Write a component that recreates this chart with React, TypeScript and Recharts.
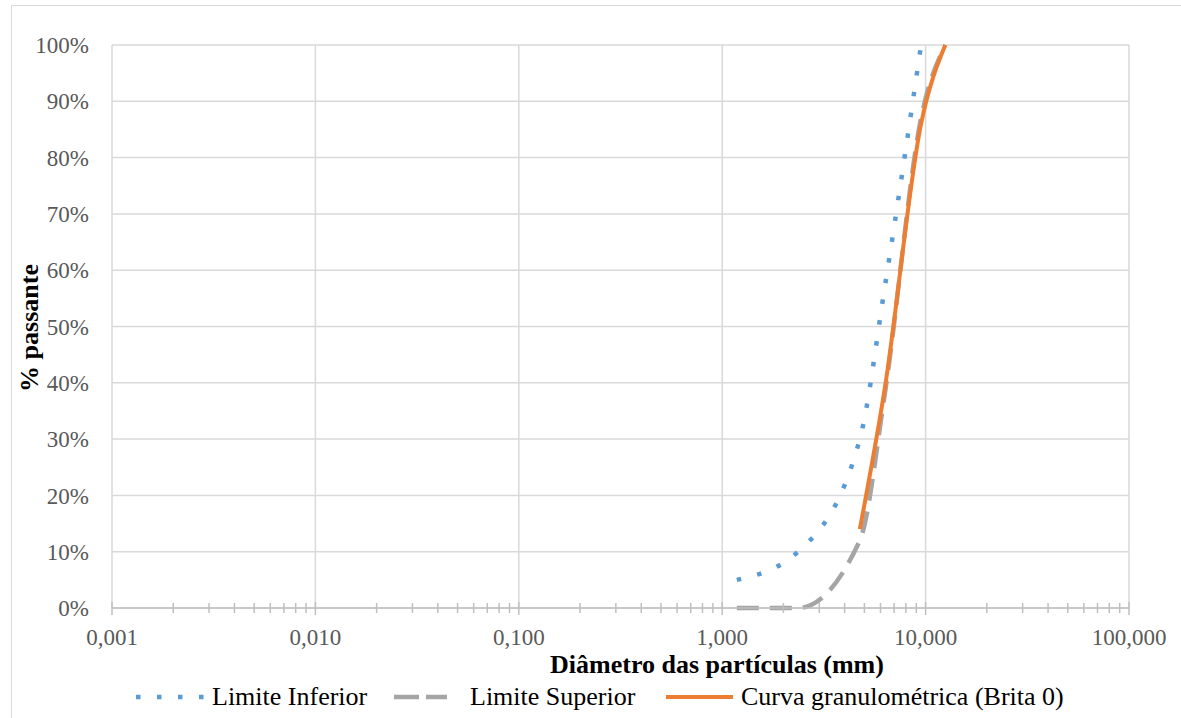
import React from "react";
import { LineChart, Line, XAxis, YAxis, CartesianGrid, ReferenceLine } from "recharts";

// ---- data ----
const limiteInferiorDiam = [1.18, 2.36, 4.75, 6.3, 9.5];
const limiteInferiorPass = [5, 10, 30, 57, 100];

const limiteSuperiorDiam = [1.18, 2.36, 4.75, 6.3, 9.5, 12.5];
const limiteSuperiorPass = [0, 0, 12, 38, 87, 100];

const curvaDiam = [4.75, 6.3, 9.5, 12.5];
const curvaPass = [14, 39, 86, 100];

const majorTicks = [0.001, 0.01, 0.1, 1, 10, 100];
const majorTickLabels = ["0,001", "0,010", "0,100", "1,000", "10,000", "100,000"];
const minorMultipliers = [2, 3, 4, 5, 6, 7, 8, 9];
const yTicks = [0, 10, 20, 30, 40, 50, 60, 70, 80, 90, 100];

const seriesNames = ["Limite Inferior", "Limite Superior", "Curva granulométrica (Brita 0)"];

// ---- derived tables ----
const toPoints = (xs: number[], ys: number[]) => xs.map((x, i) => ({ x, y: ys[i] }));
const inferiorData = toPoints(limiteInferiorDiam, limiteInferiorPass);
const superiorData = toPoints(limiteSuperiorDiam, limiteSuperiorPass);
const curvaData = toPoints(curvaDiam, curvaPass);

const allXTicks: number[] = [];
majorTicks.forEach((m, i) => {
  allXTicks.push(m);
  if (i < majorTicks.length - 1) {
    minorMultipliers.forEach((k) => allXTicks.push(parseFloat((m * k).toPrecision(6))));
  }
});

const FONT = "'Liberation Serif', 'Times New Roman', serif";
const GRID = "#d9d9d9";
const AXIS = "#bfbfbf";
const TICK_TEXT = "#595959";
const BLUE = "#5B9BD5";
const GRAY = "#A5A5A5";
const ORANGE = "#ED7D31";

const XTick = (props: any) => {
  const { x, y, payload } = props;
  const v = payload.value as number;
  const idx = majorTicks.findIndex((m) => Math.abs(m - v) / m < 1e-6);
  const isMajor = idx >= 0;
  return (
    <g>
      <line
        x1={x}
        x2={x}
        y1={y - (isMajor ? 6 : 5)}
        y2={y + (isMajor ? 7 : 5)}
        stroke={AXIS}
        strokeWidth={1.5}
      />
      {isMajor && (
        <text x={x} y={y + 37} textAnchor="middle" fill={TICK_TEXT} fontSize={23} fontFamily={FONT}>
          {majorTickLabels[idx]}
        </text>
      )}
    </g>
  );
};

export default function App() {
  return (
    <div style={{ position: "absolute", left: 0, top: 0, width: 1181, height: 718, background: "#fff", overflow: "hidden" }}>
      <div
        style={{
          position: "absolute",
          left: 11,
          top: 5,
          width: 1200,
          height: 740,
          border: `1.5px solid ${GRID}`,
          boxSizing: "border-box",
        }}
      />
      <div style={{ position: "absolute", left: 0, top: 0 }}>
        <LineChart width={1181} height={718} margin={{ top: 45, right: 52, left: 0, bottom: 80 }}>
          <CartesianGrid vertical={false} stroke={GRID} strokeWidth={1.5} />
          {majorTicks.map((m) => (
            <ReferenceLine key={m} x={m} stroke={GRID} strokeWidth={1.5} ifOverflow="visible" />
          ))}
          <XAxis
            type="number"
            dataKey="x"
            scale="log"
            domain={[0.001, 100]}
            ticks={allXTicks}
            interval={0}
            allowDataOverflow
            height={30}
            tickSize={0}
            tickMargin={0}
            tickLine={false}
            axisLine={{ stroke: AXIS, strokeWidth: 1.5 }}
            tick={<XTick />}
          />
          <YAxis
            type="number"
            domain={[0, 100]}
            ticks={yTicks}
            interval={0}
            width={112}
            axisLine={false}
            tickLine={false}
            tickSize={0}
            tickMargin={23}
            tickFormatter={(v: number) => `${v}%`}
            tick={{ fill: TICK_TEXT, fontSize: 23, fontFamily: FONT }}
          />
          <Line
            data={inferiorData}
            dataKey="y"
            type="monotoneX"
            stroke={BLUE}
            strokeWidth={4.5}
            strokeDasharray="4.5 16.5"
            strokeLinecap="butt"
            dot={false}
            activeDot={false}
            isAnimationActive={false}
            name={seriesNames[0]}
          />
          <Line
            data={superiorData}
            dataKey="y"
            type="monotoneX"
            stroke={GRAY}
            strokeWidth={4.5}
            strokeDasharray="22 11"
            strokeLinecap="butt"
            dot={false}
            activeDot={false}
            isAnimationActive={false}
            name={seriesNames[1]}
          />
          <Line
            data={curvaData}
            dataKey="y"
            type="monotoneX"
            stroke={ORANGE}
            strokeWidth={4}
            dot={false}
            activeDot={false}
            isAnimationActive={false}
            name={seriesNames[2]}
          />
        </LineChart>
      </div>
      <svg
        width={1181}
        height={718}
        style={{ position: "absolute", left: 0, top: 0, pointerEvents: "none" }}
      >
        <text
          x={38}
          y={328}
          transform="rotate(-90 38 328)"
          textAnchor="middle"
          fontFamily={FONT}
          fontWeight="bold"
          fontSize={26}
          fill="#000"
        >
          % passante
        </text>
        <text x={717} y={673} textAnchor="middle" fontFamily={FONT} fontWeight="bold" fontSize={26} fill="#000">
          Diâmetro das partículas (mm)
        </text>
        {/* legend */}
        <line x1={136} x2={206} y1={697} y2={697} stroke={BLUE} strokeWidth={4.5} strokeDasharray="4.5 16.5" />
        <text x={212} y={705} fontFamily={FONT} fontSize={26} fill="#000">
          {seriesNames[0]}
        </text>
        <line x1={394} x2={447} y1={697} y2={697} stroke={GRAY} strokeWidth={4.5} strokeDasharray="25 7" />
        <text x={470} y={705} fontFamily={FONT} fontSize={26} fill="#000">
          {seriesNames[1]}
        </text>
        <line x1={666} x2={733} y1={697} y2={697} stroke={ORANGE} strokeWidth={4} />
        <text x={741} y={705} fontFamily={FONT} fontSize={26} fill="#000">
          {seriesNames[2]}
        </text>
      </svg>
    </div>
  );
}
